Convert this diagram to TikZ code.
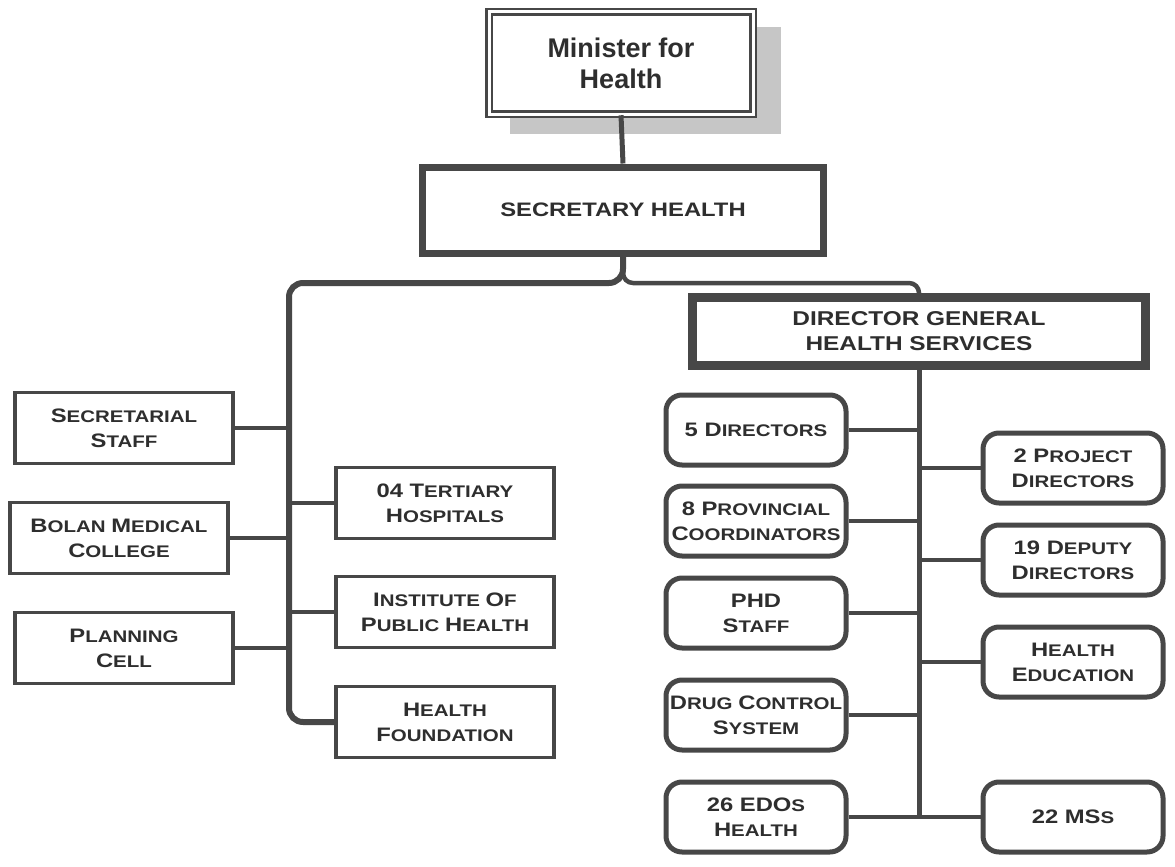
\documentclass[tikz,border=0pt]{standalone}
\usepackage{fontspec}
\newfontfamily\ari{Liberation Sans}
\newfontfamily\cop{Liberation Sans}[FakeStretch=1.22]
\usetikzlibrary{calc}
\definecolor{ln}{HTML}{474747}
\definecolor{tx}{HTML}{2E2E2E}
\definecolor{shd}{HTML}{C6C6C6}
\newcommand\Bg[1]{{\fontsize{19.5}{25}\selectfont #1}}
\begin{document}
\begin{tikzpicture}[x=1pt,y=-1pt,
  lbl/.style={font=\cop\bfseries\fontsize{16.8}{25}\selectfont, text=tx, align=center, inner sep=0pt},
  rbox/.style={lbl, draw=ln, line width=3.5pt, fill=white, minimum width=218pt, minimum height=71pt},
  obox/.style={lbl, draw=ln, line width=5pt, rounded corners=16pt, fill=white, minimum width=180pt, minimum height=70pt},
  trunk/.style={draw=ln, line width=6pt},
  branch/.style={draw=ln, line width=4.5pt}]
\useasboundingbox[fill=white] (0,0) rectangle (1175,867);
% shadow of top box
\fill[shd] (510,27) rectangle (781,134);
\node[draw=ln, double=white, double distance=3pt, line width=2.5pt, fill=white,
      minimum width=264pt, minimum height=102pt, inner sep=0pt, align=center,
      font=\ari\bfseries\fontsize{27}{31}\selectfont, text=tx] (min) at (621,63) {Minister for\\Health};
\node[lbl, draw=ln, line width=7pt, fill=white, minimum width=401pt, minimum height=86pt,
      font=\cop\bfseries\fontsize{19.5}{25}\selectfont] (sec) at (623,210) {SECRETARY HEALTH};
\node[lbl, draw=ln, line width=9pt, fill=white, minimum width=453pt, minimum height=68pt,
      font=\cop\bfseries\fontsize{20}{25}\selectfont] (dg) at (919,331) {DIRECTOR GENERAL\\HEALTH SERVICES};
% left column
\node[rbox] (staff) at (124,428) {\Bg{S}ECRETARIAL\\\Bg{S}TAFF};
\node[rbox] (bolan) at (119,538) {\Bg{B}OLAN \Bg{M}EDICAL\\\Bg{C}OLLEGE};
\node[rbox] (plan) at (124,648) {\Bg{P}LANNING\\\Bg{C}ELL};
% middle column
\node[rbox] (tert) at (445,503) {\Bg{04 T}ERTIARY\\\Bg{H}OSPITALS};
\node[rbox] (inst) at (445,612) {\Bg{I}NSTITUTE \Bg{O}F\\\Bg{P}UBLIC \Bg{H}EALTH};
\node[rbox] (found) at (445,722) {\Bg{H}EALTH\\\Bg{F}OUNDATION};
% DG left column
\node[obox] (dir5) at (756,430) {\Bg{5 D}IRECTORS};
\node[obox] (prov) at (756,521) {\Bg{8 P}ROVINCIAL\\\Bg{C}OORDINATORS};
\node[obox] (phd) at (756,613) {\Bg{PHD}\\\Bg{S}TAFF};
\node[obox] (drug) at (756,715) {\Bg{D}RUG \Bg{C}ONTROL\\\Bg{S}YSTEM};
\node[obox] (edos) at (756,817) {\Bg{26 EDO}S\\\Bg{H}EALTH};
% DG right column
\node[obox] (proj) at (1073,468) {\Bg{2 P}ROJECT\\\Bg{D}IRECTORS};
\node[obox] (dep) at (1073,560) {\Bg{19 D}EPUTY\\\Bg{D}IRECTORS};
\node[obox] (hed) at (1073,662) {\Bg{H}EALTH\\\Bg{E}DUCATION};
\node[obox] (mss) at (1073,817) {\Bg{22 MS}S};
% connectors
\coordinate (lt) at (289,283);
\coordinate (rt) at (919,283);
\draw[trunk, line width=5pt] (min.south) -- (sec.north);
\draw[trunk, rounded corners=14pt] (sec.south) |- (lt) |- (found.west);
\draw[branch, rounded corners=10pt] (sec.south) |- (rt) -- (dg.north);
\foreach \b in {staff,bolan,plan} \draw[branch] (\b.east) -- (\b.east -| lt);
\foreach \b in {tert,inst} \draw[branch] (\b.west -| lt) -- (\b.west);
\coordinate (db) at (dg.south |- edos.east);
\draw[trunk, line width=5pt] (dg.south) -- (db);
\draw[branch] (edos.east) -- (mss.west);
\foreach \b in {dir5,prov,phd,drug} \draw[branch] (\b.east) -- (\b.east -| dg.south);
\foreach \b in {proj,dep,hed} \draw[branch] (\b.west -| dg.south) -- (\b.west);
\end{tikzpicture}
\end{document}
